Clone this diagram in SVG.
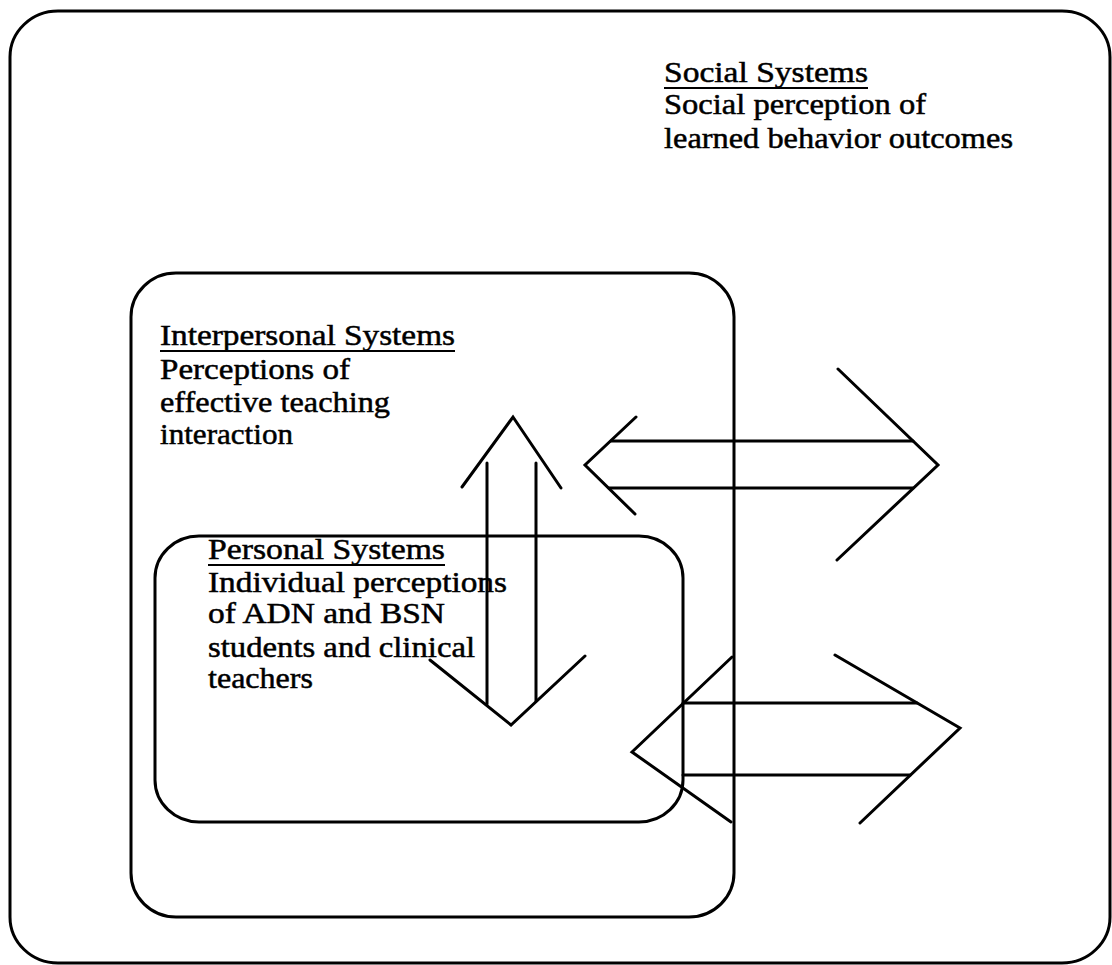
<svg xmlns="http://www.w3.org/2000/svg" width="1112" height="965" viewBox="0 0 1112 965">
  <style>
    .box { fill: none; stroke: #000; stroke-width: 3; }
    .arrow { fill: none; stroke: #000; stroke-width: 3; stroke-linecap: round; stroke-linejoin: miter; }
    .label { font-family: "Liberation Serif", "Times New Roman", Times, serif; font-size: 30px; fill: #000; stroke: #000; stroke-width: 0.5; }
    .rule { stroke: #000; stroke-width: 2; }
  </style>

  <rect width="1112" height="965" fill="#fff"/>

  <!-- outermost system -->
  <g id="social-systems">
    <rect class="box" x="10" y="11" width="1100" height="952" rx="48" ry="46"/>
    <text class="label" x="664" y="82" textLength="204" lengthAdjust="spacingAndGlyphs">Social Systems</text>
    <line class="rule" x1="664" y1="88" x2="868" y2="88"/>
    <text class="label" x="664" y="114" textLength="262" lengthAdjust="spacingAndGlyphs">Social perception of</text>
    <text class="label" x="664" y="148" textLength="349" lengthAdjust="spacingAndGlyphs">learned behavior outcomes</text>
  </g>

  <!-- middle system -->
  <g id="interpersonal-systems">
    <rect class="box" x="131" y="273" width="603" height="644" rx="45" ry="44"/>
    <text class="label" x="160" y="345" textLength="295" lengthAdjust="spacingAndGlyphs">Interpersonal Systems</text>
    <line class="rule" x1="160" y1="351" x2="455" y2="351"/>
    <text class="label" x="160" y="379" textLength="190" lengthAdjust="spacingAndGlyphs">Perceptions of</text>
    <text class="label" x="160" y="412" textLength="230" lengthAdjust="spacingAndGlyphs">effective teaching</text>
    <text class="label" x="160" y="444" textLength="133" lengthAdjust="spacingAndGlyphs">interaction</text>
  </g>

  <!-- innermost system -->
  <g id="personal-systems">
    <rect class="box" x="155" y="536" width="528" height="286" rx="44" ry="42"/>
    <text class="label" x="208" y="559" textLength="237" lengthAdjust="spacingAndGlyphs">Personal Systems</text>
    <line class="rule" x1="208" y1="565" x2="445" y2="565"/>
    <text class="label" x="208" y="592" textLength="299" lengthAdjust="spacingAndGlyphs">Individual perceptions</text>
    <text class="label" x="208" y="623" textLength="237" lengthAdjust="spacingAndGlyphs">of ADN and BSN</text>
    <text class="label" x="208" y="657" textLength="267" lengthAdjust="spacingAndGlyphs">students and clinical</text>
    <text class="label" x="208" y="688" textLength="105" lengthAdjust="spacingAndGlyphs">teachers</text>
  </g>

  <!-- open double-headed arrows between the systems -->
  <g id="connectors">
    <!-- personal <-> interpersonal (vertical) -->
    <g id="arrow-vertical">
      <polyline class="arrow" points="462,487 513,417 561,488"/>
      <line class="arrow" x1="487" y1="463" x2="487" y2="704"/>
      <line class="arrow" x1="536" y1="463" x2="536" y2="701"/>
      <polyline class="arrow" points="430,660 511,725 585,656"/>
    </g>
    <!-- interpersonal <-> social (upper) -->
    <g id="arrow-upper">
      <polyline class="arrow" points="636,417 585,465 635,514"/>
      <line class="arrow" x1="611" y1="441" x2="913" y2="441"/>
      <line class="arrow" x1="609" y1="488" x2="913" y2="488"/>
      <polyline class="arrow" points="838,369 938,465 837,560"/>
    </g>
    <!-- personal <-> social (lower) -->
    <g id="arrow-lower">
      <polyline class="arrow" points="732,657 632,752 731,822"/>
      <line class="arrow" x1="683" y1="703" x2="917" y2="703"/>
      <line class="arrow" x1="683" y1="775" x2="910" y2="775"/>
      <polyline class="arrow" points="835,655 960,728 860,823"/>
    </g>
  </g>
</svg>
